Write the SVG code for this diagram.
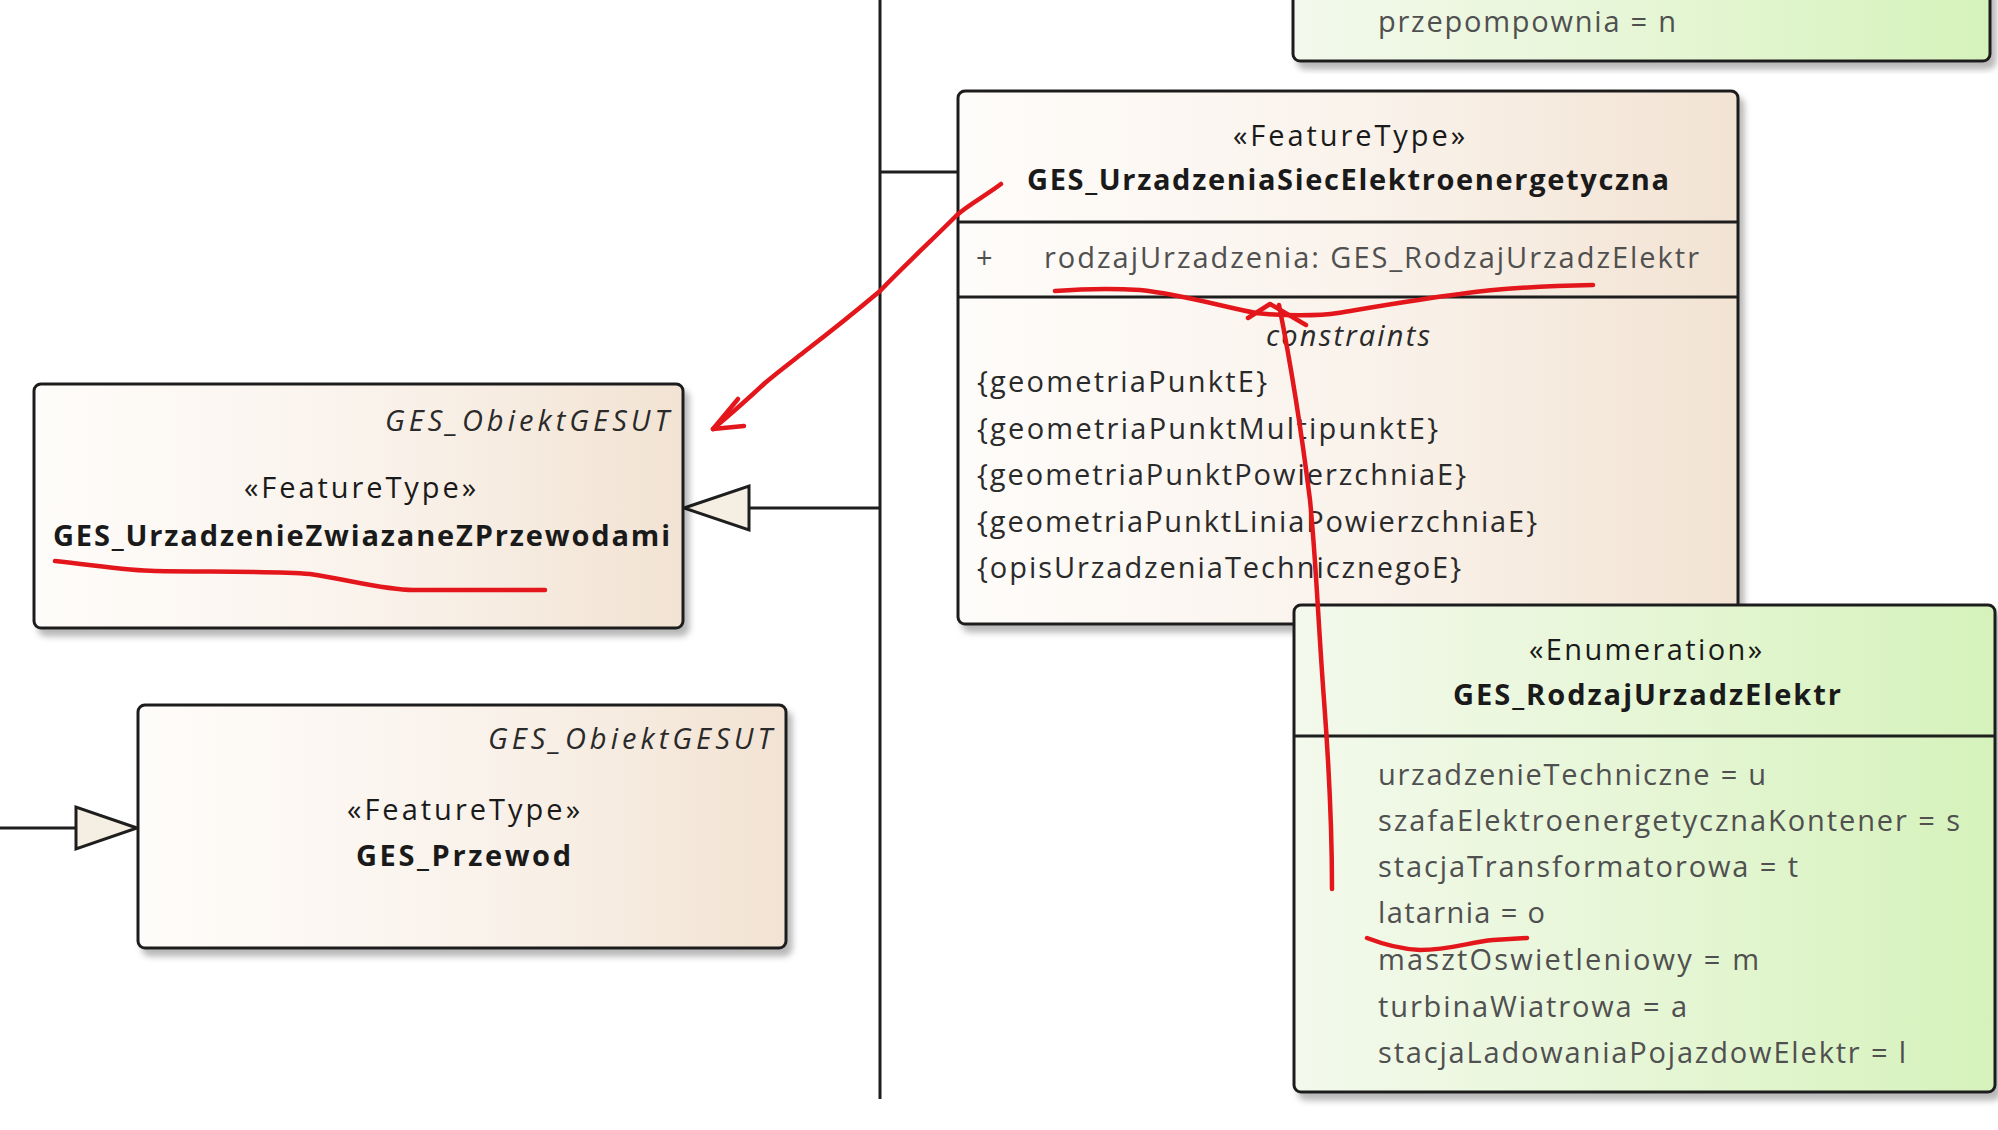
<svg xmlns="http://www.w3.org/2000/svg" width="1998" height="1130" viewBox="0 0 1998 1130">
<defs>
<linearGradient id="gBeige" x1="0" y1="0" x2="1" y2="0">
<stop offset="0" stop-color="#fefcfa"/>
<stop offset="0.5" stop-color="#faf3ec"/>
<stop offset="1" stop-color="#f2e3d3"/>
</linearGradient>
<linearGradient id="gGreen" x1="0" y1="0" x2="1" y2="0">
<stop offset="0" stop-color="#f3f9ec"/>
<stop offset="0.5" stop-color="#e6f6d6"/>
<stop offset="1" stop-color="#d6f2bb"/>
</linearGradient>
<filter id="sh" x="-5%" y="-5%" width="115%" height="120%">
<feDropShadow dx="5" dy="7" stdDeviation="3" flood-color="#000" flood-opacity="0.28"/>
</filter>
</defs>
<style>
.box{stroke:#1e1e1e;stroke-width:3;filter:url(#sh)}
.beige{fill:url(#gBeige)}
.green{fill:url(#gGreen)}
.sep{stroke:#1e1e1e;stroke-width:3}
text{font-family:"Open Sans","Liberation Sans",sans-serif;font-size:29px;fill:#1a1a1a}
.b{font-weight:bold}
.i{font-style:italic;fill:#2a2a2a}
.g{fill:#505050}
.c{fill:#2a2a2a}
.ln{stroke:#1e1e1e;stroke-width:3;fill:none}
.tri{fill:#f4efe2;stroke:#1e1e1e;stroke-width:3;stroke-linejoin:miter}
.red{stroke:#e3161c;stroke-width:4.5;fill:none;stroke-linecap:round;stroke-linejoin:round}
</style>
<rect width="1998" height="1130" fill="#ffffff"/>

<g id="connectors">
<line class="ln" x1="880" y1="0" x2="880" y2="1099"/>
<line class="ln" x1="880" y1="172" x2="957" y2="172"/>
<line class="ln" x1="880" y1="508" x2="749" y2="508"/>
<polygon class="tri" points="684,508 749,486 749,530"/>
<line class="ln" x1="0" y1="828" x2="76" y2="828"/>
<polygon class="tri" points="137,828 76,807 76,849"/>
</g>

<g id="enum-top">
<rect class="box green" x="1293" y="-20" width="697" height="81" rx="7"/>
<text class="g" x="1378" y="32" textLength="298">przepompownia = n</text>
</g>

<g id="GES_UrzadzeniaSiecElektroenergetyczna">
<rect class="box beige" x="958" y="91" width="780" height="533" rx="7"/>
<line class="sep" x1="958" y1="222" x2="1738" y2="222"/>
<line class="sep" x1="958" y1="297" x2="1738" y2="297"/>
<text x="1233" y="146" textLength="232">«FeatureType»</text>
<text class="b" x="1027" y="190" textLength="642">GES_UrzadzeniaSiecElektroenergetyczna</text>
<text class="g" x="976" y="268">+</text>
<text class="g" x="1044" y="268" textLength="655">rodzajUrzadzenia: GES_RodzajUrzadzElektr</text>
<text class="i" x="1266" y="346" textLength="164">constraints</text>
<text class="c" x="977" y="392" textLength="290">{geometriaPunktE}</text>
<text class="c" x="977" y="439" textLength="461">{geometriaPunktMultipunktE}</text>
<text class="c" x="977" y="485" textLength="489">{geometriaPunktPowierzchniaE}</text>
<text class="c" x="977" y="532" textLength="560">{geometriaPunktLiniaPowierzchniaE}</text>
<text class="c" x="977" y="578" textLength="484">{opisUrzadzeniaTechnicznegoE}</text>
</g>

<g id="GES_UrzadzenieZwiazaneZPrzewodami">
<rect class="box beige" x="34" y="384" width="649" height="244" rx="7"/>
<text class="i" x="385" y="431" textLength="284">GES_ObiektGESUT</text>
<text x="244" y="498" textLength="232">«FeatureType»</text>
<text class="b" x="53" y="546" textLength="617">GES_UrzadzenieZwiazaneZPrzewodami</text>
</g>

<g id="GES_Przewod">
<rect class="box beige" x="138" y="705" width="648" height="243" rx="7"/>
<text class="i" x="488" y="749" textLength="284">GES_ObiektGESUT</text>
<text x="347" y="820" textLength="233">«FeatureType»</text>
<text class="b" x="356" y="866" textLength="215">GES_Przewod</text>
</g>

<g id="GES_RodzajUrzadzElektr">
<rect class="box green" x="1294" y="605" width="701" height="487" rx="7"/>
<line class="sep" x1="1294" y1="736" x2="1995" y2="736"/>
<text x="1529" y="660" textLength="233">«Enumeration»</text>
<text class="b" x="1453" y="705" textLength="388">GES_RodzajUrzadzElektr</text>
<text class="g" x="1378" y="785" textLength="388">urzadzenieTechniczne = u</text>
<text class="g" x="1378" y="831" textLength="582">szafaElektroenergetycznaKontener = s</text>
<text class="g" x="1378" y="877" textLength="420">stacjaTransformatorowa = t</text>
<text class="g" x="1378" y="923" textLength="167">latarnia = o</text>
<text class="g" x="1378" y="970" textLength="381">masztOswietleniowy = m</text>
<text class="g" x="1378" y="1017" textLength="309">turbinaWiatrowa = a</text>
<text class="g" x="1378" y="1063" textLength="528">stacjaLadowaniaPojazdowElektr = l</text>
</g>

<g id="annotations">
<path class="red" d="M1001,184 C985,196 968,205 957,215 C930,242 905,265 880,291 C855,312 830,332 804,352 C790,363 778,372 765,383 C748,399 732,413 713,429"/>
<path class="red" d="M738,399 L713,429 L744,426"/>
<path class="red" d="M55,561 C100,566 130,571 155,571 C210,572 270,571 310,574 C350,580 385,590 413,590 L545,590"/>
<path class="red" d="M1055,291 C1080,289 1110,288 1140,290 C1180,294 1220,306 1256,313 C1280,316 1320,316 1338,313 C1380,306 1420,299 1460,294 C1500,288 1540,286 1593,285"/>
<path class="red" d="M1248,318 L1270,304 L1306,325"/>
<path class="red" d="M1279,305 C1290,360 1300,420 1310,500 C1316,560 1318,620 1324,700 C1330,780 1332,840 1332,889"/>
<path class="red" d="M1367,938 C1385,945 1400,949 1420,950 C1450,950 1470,942 1493,940 L1527,938"/>
</g>
</svg>
